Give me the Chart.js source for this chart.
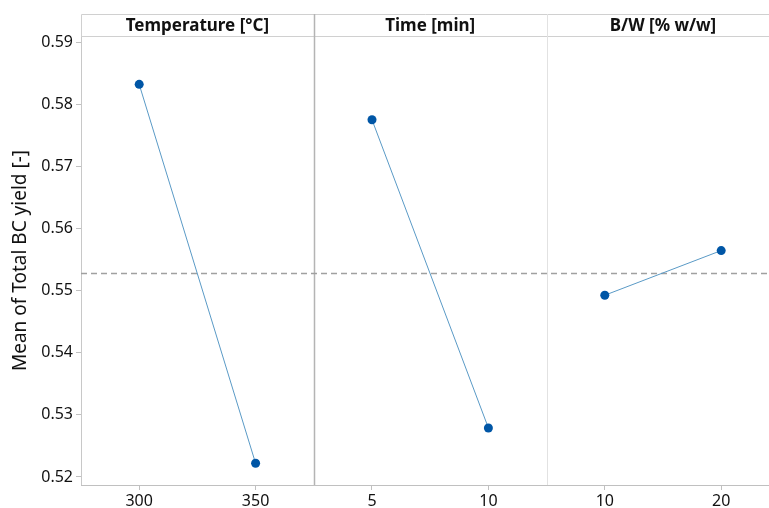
<!DOCTYPE html>
<html>
<head>
<meta charset="utf-8">
<script src="https://cdn.jsdelivr.net/npm/chart.js@4/dist/chart.umd.min.js"></script>
<style>
  html, body { margin: 0; padding: 0; background: #fff; }
  #wrap { width: 769px; height: 508px; position: relative; }
</style>
</head>
<body>
<div id="wrap"><canvas id="c" width="769" height="508"></canvas></div>
<script>
// Main effects: factor names, their levels and the mean response at each level
const factors = ['Temperature [°C]', 'Time [min]', 'B/W [% w/w]'];
const levels = [['300', '350'], ['5', '10'], ['10', '20']];
const temperatureMeans = [0.5833, 0.5222];
const timeMeans = [0.5776, 0.5279];
const bwMeans = [0.5493, 0.5565];
const grandMean = 0.5528;
const yTicks = [0.52, 0.53, 0.54, 0.55, 0.56, 0.57, 0.58, 0.59];

const factorMeans = [temperatureMeans, timeMeans, bwMeans];
const X_MAX = 2.936;            // last panel runs past the right edge
const LEVEL_POS = [0.25, 0.75]; // level positions inside a panel

const tickPositions = [];
const tickText = {};
factors.forEach((f, i) => levels[i].forEach((l, j) => {
  const p = i + LEVEL_POS[j];
  tickPositions.push(p);
  tickText[p.toFixed(2)] = l;
}));

const lineColor = '#5a9ac6';
const pointColor = '#0056a6';

const datasets = factorMeans.map((vals, i) => ({
  label: factors[i],
  data: vals.map((v, j) => ({ x: i + LEVEL_POS[j], y: v })),
  borderColor: lineColor,
  borderWidth: 1,
  pointBackgroundColor: pointColor,
  pointBorderColor: pointColor,
  pointRadius: 4.5,
  pointBorderWidth: 0,
  tension: 0,
  order: 1
}));

// grand-mean reference line, carried on to the canvas edge
datasets.push({
  label: 'Mean',
  data: [{ x: 0, y: grandMean }, { x: 2.98, y: grandMean }],
  borderColor: '#a0a0a0',
  borderWidth: 1.5,
  borderDash: [6, 4],
  pointRadius: 0,
  clip: false,
  order: 2
});

const FONT = "'Noto Sans', 'Open Sans', sans-serif";
const HEADER_TOP = 14;

// Panel header strip, dividers between panels, and a full-width bottom axis line
const panelPlugin = {
  id: 'panels',
  beforeDatasetsDraw(chart) {
    const { ctx, chartArea: a, scales: { x } } = chart;
    ctx.save();
    ctx.strokeStyle = '#d0d0d0';
    ctx.lineWidth = 1;
    ctx.beginPath();
    ctx.moveTo(a.left + 0.5, a.top);
    ctx.lineTo(a.left + 0.5, HEADER_TOP + 0.5);
    ctx.lineTo(chart.width, HEADER_TOP + 0.5);
    ctx.moveTo(a.left, a.top + 0.5);
    ctx.lineTo(chart.width, a.top + 0.5);
    ctx.stroke();
    ctx.strokeStyle = '#c0c0c0';
    ctx.beginPath();
    ctx.moveTo(a.left, Math.round(a.bottom) + 0.5);
    ctx.lineTo(chart.width, Math.round(a.bottom) + 0.5);
    ctx.stroke();
    const divColors = ['#b4b4b4', '#e2e2e2'];
    [1, 2].forEach((v, k) => {
      const px = Math.round(x.getPixelForValue(v)) + 0.5;
      ctx.strokeStyle = divColors[k];
      ctx.lineWidth = k === 0 ? 1.5 : 1;
      ctx.beginPath();
      ctx.moveTo(px, HEADER_TOP);
      ctx.lineTo(px, a.bottom);
      ctx.stroke();
    });
    ctx.fillStyle = '#111';
    ctx.font = 'bold 17px ' + FONT;
    ctx.textAlign = 'center';
    ctx.textBaseline = 'middle';
    factors.forEach((f, i) => {
      const cx = (x.getPixelForValue(i) + x.getPixelForValue(i + 1)) / 2;
      ctx.fillText(f, cx, (HEADER_TOP + a.top) / 2 + 1);
    });
    ctx.restore();
  }
};

new Chart(document.getElementById('c'), {
  type: 'line',
  data: { datasets },
  plugins: [panelPlugin],
  options: {
    responsive: false,
    animation: false,
    devicePixelRatio: 1,
    layout: { padding: { top: 36, right: 0, bottom: 0, left: 0 } },
    plugins: { legend: { display: false }, tooltip: { enabled: false } },
    scales: {
      x: {
        type: 'linear',
        min: 0,
        max: X_MAX,
        afterBuildTicks(scale) { scale.ticks = tickPositions.map(v => ({ value: v })); },
        afterFit(scale) { scale.height = 23; },
        ticks: {
          autoSkip: false,
          maxRotation: 0,
          padding: 2,
          color: '#111',
          font: { family: FONT, size: 16 },
          callback: v => tickText[Number(v).toFixed(2)] || ''
        },
        grid: { drawOnChartArea: false, drawTicks: true, tickLength: 5, color: '#c0c0c0' },
        border: { display: true, color: '#c0c0c0' }
      },
      y: {
        min: 0.5187,
        max: 0.5911,
        afterBuildTicks(scale) { scale.ticks = yTicks.map(v => ({ value: v })); },
        afterFit(scale) { scale.width = 81; },
        ticks: {
          padding: 3,
          color: '#111',
          font: { family: FONT, size: 16 },
          callback: v => Number(v).toFixed(2)
        },
        grid: { drawOnChartArea: false, drawTicks: true, tickLength: 5, color: '#c0c0c0' },
        border: { display: true, color: '#c8c8c8' },
        title: {
          display: true,
          text: 'Mean of Total BC yield [-]',
          color: '#111',
          font: { family: FONT, size: 19 },
          padding: { top: 9, bottom: 0 }
        }
      }
    }
  }
});
</script>
</body>
</html>
